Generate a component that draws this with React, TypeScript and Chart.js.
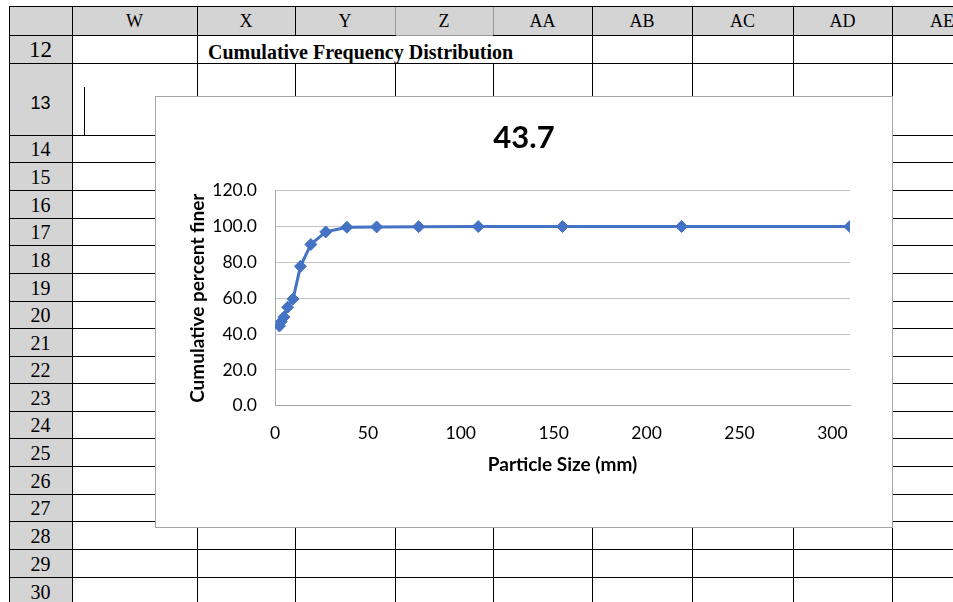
import React, { useEffect, useRef } from "react";
import { Chart, registerables } from "chart.js";

Chart.register(...registerables);

// ---- chart data ----
const particleSizes = [2.4, 3.4, 4.8, 6.8, 9.7, 13.7, 19.3, 27.3, 38.7, 54.7, 77.3, 109.4, 154.7, 218.8, 309.4];
const percentFiner = [44.5, 47, 49.5, 55, 59.5, 77.8, 90, 97, 99.6, 99.8, 99.9, 100, 100, 100, 100];
const chartTitle = "43.7";
const xAxisTitle = "Particle Size (mm)";
const yAxisTitle = "Cumulative percent finer";
const xMax = 309.5;
const yMax = 120;

// ---- sheet text ----
const columnLabels = ["W", "X", "Y", "Z", "AA", "AB", "AC", "AD", "AE"];
const rowLabels = ["12", "13", "14", "15", "16", "17", "18", "19", "20", "21", "22", "23", "24", "25", "26", "27", "28", "29", "30"];
const sheetHeading = "Cumulative Frequency Distribution";

// ---- sheet geometry ----
const colEdges = [9, 72, 197, 295, 395, 493, 592, 692, 793, 892, 992];
const rowEdges = [6, 35, 63, 135, 162, 190, 218, 245, 273, 301, 328, 356, 383, 411, 438, 466, 494, 521, 549, 577, 605];

const HEADER_BG = "#d4d4d4";
const SERIF = '"Liberation Serif", "Times New Roman", serif';
const SANS = '"Liberation Sans", Arial, sans-serif';
const CHART_FONT = "Lato";

function ChartBox() {
  const ref = useRef<HTMLCanvasElement | null>(null);
  useEffect(() => {
    if (!ref.current) return;
    const tickFont = { family: CHART_FONT, size: 17.5 };
    const titleFont = { family: CHART_FONT, size: 19, weight: "bold" as const };
    const chart = new Chart(ref.current, {
      type: "scatter",
      data: {
        datasets: [
          {
            data: particleSizes.map((x, i) => ({ x, y: percentFiner[i] })),
            showLine: true,
            borderColor: "#4472C4",
            backgroundColor: "#4472C4",
            borderWidth: 3,
            pointStyle: "rectRot",
            pointRadius: 6,
            pointHoverRadius: 6,
            pointBorderWidth: 1,
          },
        ],
      },
      options: {
        animation: false,
        responsive: false,
        devicePixelRatio: 1,
        layout: { padding: 0 },
        plugins: {
          legend: { display: false },
          tooltip: { enabled: false },
          title: {
            display: true,
            text: chartTitle,
            color: "#000",
            font: { family: CHART_FONT, size: 31, weight: "bold" },
            padding: { top: 22, bottom: 34.5 },
          },
        },
        scales: {
          x: {
            type: "linear",
            min: 0,
            max: xMax,
            ticks: { stepSize: 50, includeBounds: false, padding: 17.5, color: "#000", font: tickFont },
            grid: { display: false, drawTicks: false },
            border: { display: true, color: "#a6a6a6", width: 1 },
            title: { display: true, text: xAxisTitle, color: "#000", font: titleFont, padding: { top: 0, bottom: 51 } },
            afterFit: (s: any) => {
              s.height = 121.3;
            },
          },
          y: {
            type: "linear",
            min: 0,
            max: yMax,
            ticks: {
              stepSize: 20,
              padding: 18,
              color: "#000",
              font: tickFont,
              callback: (v: any) => Number(v).toFixed(1),
            },
            grid: { color: "#c4c4c4", lineWidth: 1, drawTicks: false },
            border: { display: true, color: "#a6a6a6", width: 1 },
            title: { display: true, text: yAxisTitle, color: "#000", font: titleFont, padding: { top: 30, bottom: 0 } },
            afterFit: (s: any) => {
              s.width = 119;
            },
          },
          y2: {
            type: "linear",
            position: "right",
            display: true,
            ticks: { display: false },
            grid: { display: false, drawTicks: false },
            border: { display: false },
            afterFit: (s: any) => {
              s.width = 42;
            },
          },
        },
      },
    } as any);
    return () => chart.destroy();
  }, []);
  return (
    <div
      style={{
        position: "absolute",
        left: 155,
        top: 96,
        width: 738,
        height: 432,
        boxSizing: "border-box",
        border: "1px solid #a6a6a6",
        background: "#fff",
      }}
    >
      <canvas ref={ref} width={736} height={430} style={{ position: "absolute", left: 0, top: 0, width: 736, height: 430 }} />
    </div>
  );
}

function Sheet() {
  const els: React.ReactNode[] = [];
  // backgrounds
  els.push(<div key="hbg" style={{ position: "absolute", left: 9, top: 6, width: 944, height: 29, background: HEADER_BG }} />);
  els.push(<div key="rbg" style={{ position: "absolute", left: 9, top: 6, width: 63, height: 596, background: HEADER_BG }} />);
  // vertical lines
  colEdges.slice(0, -1).forEach((x, i) => {
    const noRow12 = x === 295 || x === 395 || x === 493;
    if (noRow12) {
      els.push(<div key={"v" + i + "a"} style={{ position: "absolute", left: x, top: 6, width: 1, height: 29, background: x === 395 || x === 493 ? "#9a9a9a" : "#000" }} />);
      els.push(<div key={"v" + i + "b"} style={{ position: "absolute", left: x, top: 63, width: 1, height: 540, background: "#000" }} />);
    } else {
      els.push(<div key={"v" + i} style={{ position: "absolute", left: x, top: 6, width: 1, height: 597, background: "#000" }} />);
    }
  });
  // horizontal lines
  rowEdges.slice(0, -1).forEach((y, i) => {
    els.push(<div key={"h" + i} style={{ position: "absolute", left: 9, top: y, width: 944, height: 1, background: "#000" }} />);
  });
  // Z header lighter bottom
  els.push(<div key="zsel" style={{ position: "absolute", left: 396, top: 35, width: 97, height: 1, background: "#9a9a9a" }} />);
  // small cursor line in W13
  els.push(<div key="cur" style={{ position: "absolute", left: 84, top: 87, width: 1, height: 48, background: "#000" }} />);
  // column header text
  columnLabels.forEach((lab, i) => {
    const l = colEdges[i + 1];
    const r = colEdges[i + 2];
    els.push(
      <div
        key={"c" + lab}
        style={{
          position: "absolute",
          left: l,
          top: 7,
          width: r - l,
          height: 29,
          lineHeight: "29px",
          textAlign: "center",
          fontFamily: SERIF,
          fontSize: 18,
          color: "#000",
        }}
      >
        {lab}
      </div>
    );
  });
  // row header text
  rowLabels.forEach((lab, i) => {
    const t = rowEdges[i + 1];
    const b = rowEdges[i + 2];
    const isSans = lab === "13";
    const size = lab === "12" ? 23 : isSans ? 18 : 20;
    els.push(
      <div
        key={"r" + lab}
        style={{
          position: "absolute",
          left: 9,
          top: t + (isSans ? 4 : 1),
          width: 63,
          height: b - t,
          lineHeight: b - t + "px",
          textAlign: "center",
          fontFamily: isSans ? SANS : SERIF,
          fontSize: size,
          color: "#000",
        }}
      >
        {lab}
      </div>
    );
  });
  // heading in row 12
  els.push(
    <div
      key="heading"
      style={{
        position: "absolute",
        left: 208,
        top: 38,
        height: 28,
        lineHeight: "28px",
        fontFamily: SERIF,
        fontWeight: "bold",
        fontSize: 20,
        color: "#000",
        whiteSpace: "nowrap",
      }}
    >
      {sheetHeading}
    </div>
  );
  return <>{els}</>;
}

export default function App() {
  return (
    <div
      style={{
        position: "fixed",
        left: 0,
        top: 0,
        width: 953,
        height: 602,
        overflow: "hidden",
        background: "#fff",
      }}
    >
      <Sheet />
      <ChartBox />
    </div>
  );
}
